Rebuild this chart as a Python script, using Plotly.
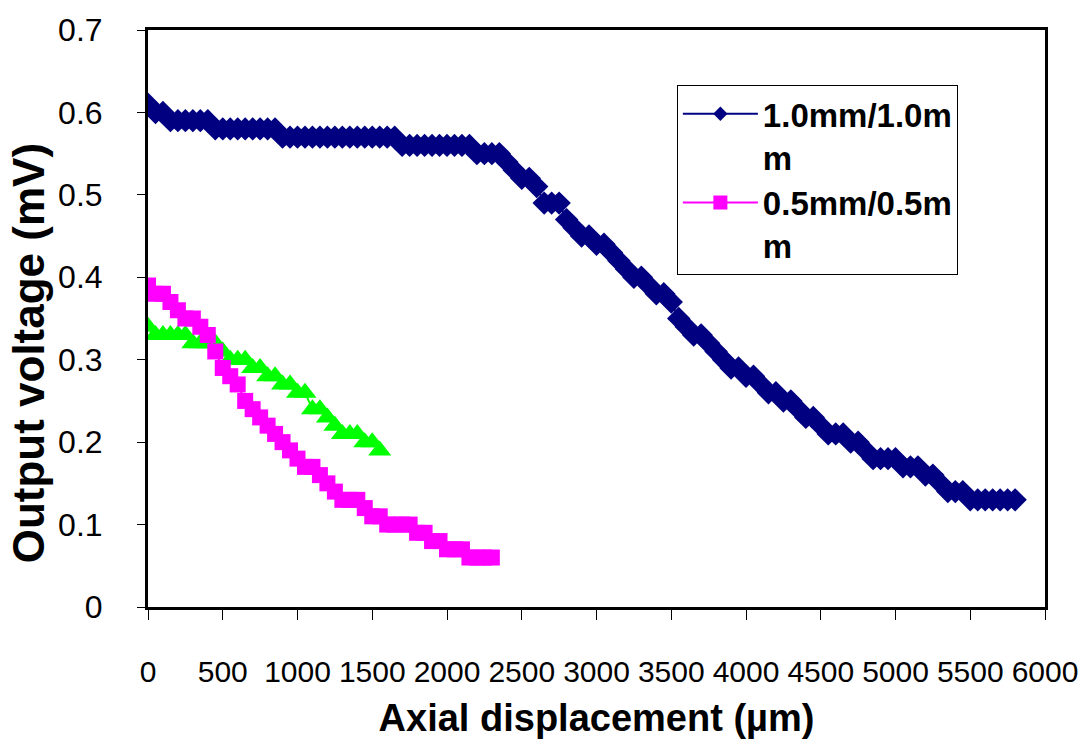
import plotly.graph_objects as go

# ---------------- data ----------------
step_um = 50

blue_name = "1.0mm/1.0m<br>m"
blue_y = [
    0.61, 0.60, 0.60,
    0.59, 0.59, 0.59, 0.59, 0.59, 0.59,
    0.58, 0.58, 0.58, 0.58, 0.58, 0.58, 0.58, 0.58, 0.58,
    0.57, 0.57, 0.57, 0.57, 0.57, 0.57, 0.57, 0.57,
    0.57, 0.57, 0.57, 0.57, 0.57, 0.57, 0.57, 0.57,
    0.56, 0.56, 0.56, 0.56, 0.56, 0.56, 0.56, 0.56, 0.56, 0.56,
    0.55, 0.55, 0.55, 0.55,
    0.54, 0.53, 0.52, 0.52, 0.51, 0.49, 0.49, 0.49, 0.47, 0.46,
    0.45, 0.45, 0.44, 0.44, 0.43, 0.42, 0.41, 0.40, 0.40, 0.39,
    0.38, 0.38, 0.37, 0.35, 0.34, 0.33, 0.33, 0.32, 0.31, 0.30,
    0.29, 0.29, 0.28, 0.28, 0.27, 0.26, 0.26, 0.25, 0.25, 0.24,
    0.23, 0.23, 0.22, 0.21, 0.21, 0.21, 0.20, 0.20, 0.19, 0.18,
    0.18, 0.18, 0.18, 0.17, 0.17, 0.17, 0.16, 0.16, 0.15, 0.14,
    0.14, 0.14, 0.13, 0.13, 0.13, 0.13, 0.13, 0.13, 0.13,
]

magenta_name = "0.5mm/0.5m<br>m"
magenta_y = [
    0.39, 0.38, 0.38, 0.37, 0.36, 0.35, 0.35, 0.34, 0.33, 0.31,
    0.29, 0.28, 0.27, 0.25, 0.24, 0.23, 0.22, 0.21, 0.20, 0.19,
    0.18, 0.17, 0.17, 0.16, 0.15, 0.14, 0.13, 0.13, 0.13, 0.12,
    0.11, 0.11, 0.10, 0.10, 0.10, 0.10, 0.09, 0.09, 0.08, 0.08,
    0.07, 0.07, 0.07, 0.06, 0.06, 0.06, 0.06,
]

green_y = [
    0.34, 0.33, 0.33, 0.33, 0.33, 0.33, 0.32, 0.32, 0.32, 0.32,
    0.31, 0.30, 0.30, 0.30, 0.29, 0.29, 0.28, 0.28, 0.27, 0.27,
    0.26, 0.26, 0.24, 0.24, 0.23, 0.22, 0.21, 0.21, 0.21, 0.20,
    0.20, 0.19,
]

x_tick_vals = [0, 500, 1000, 1500, 2000, 2500, 3000, 3500, 4000, 4500, 5000, 5500, 6000]
y_tick_vals = [0, 0.1, 0.2, 0.3, 0.4, 0.5, 0.6, 0.7]
y_tick_text = ["0", "0.1", "0.2", "0.3", "0.4", "0.5", "0.6", "0.7"]

x_title = "Axial displacement (µm)"
y_title = "Output voltage (mV)"

BLUE = "#000080"
MAGENTA = "#FF00FF"
GREEN = "#00FF00"


def xs(values):
    return [i * step_um for i in range(len(values))]


FONT = "Liberation Sans, Arial, sans-serif"

fig = go.Figure()
fig.add_trace(go.Scatter(
    x=xs(green_y), y=green_y, mode="lines+markers", showlegend=False,
    line=dict(color=GREEN, width=2),
    marker=dict(symbol="triangle-up", size=20, color=GREEN),
))
fig.add_trace(go.Scatter(
    x=xs(magenta_y), y=magenta_y, mode="lines+markers", showlegend=False,
    line=dict(color=MAGENTA, width=2),
    marker=dict(symbol="square", size=16, color=MAGENTA),
))
fig.add_trace(go.Scatter(
    x=xs(blue_y), y=blue_y, mode="lines+markers", showlegend=False,
    line=dict(color=BLUE, width=2),
    marker=dict(symbol="diamond", size=18, color=BLUE),
))
# legend entries (same series, legend-sized symbols)
fig.add_trace(go.Scatter(
    x=[None], y=[None], mode="lines+markers", name=magenta_name,
    line=dict(color=MAGENTA, width=2),
    marker=dict(symbol="square", size=14, color=MAGENTA),
))
fig.add_trace(go.Scatter(
    x=[None], y=[None], mode="lines+markers", name=blue_name,
    line=dict(color=BLUE, width=2),
    marker=dict(symbol="diamond", size=11, color=BLUE),
))

fig.update_layout(
    width=1090, height=745,
    margin=dict(l=148, r=43, t=28, b=133),
    paper_bgcolor="white", plot_bgcolor="white",
    font=dict(family=FONT, color="black"),
    legend=dict(
        x=0.5896, y=0.905, xanchor="left", yanchor="top",
        bgcolor="white", bordercolor="black", borderwidth=1,
        font=dict(size=33, family=FONT, color="black", weight="bold"),
        itemwidth=75, valign="top", traceorder="reversed",
        tracegroupgap=0,
    ),
    xaxis=dict(
        range=[0, 6000], tickvals=x_tick_vals,
        showgrid=False, zeroline=False,
        showline=True, linecolor="black", linewidth=3, mirror=True,
        ticks="outside", ticklen=10, tickwidth=1, tickcolor="black",
        tickfont=dict(size=30, family=FONT, color="black"),
        ticklabelstandoff=26,
        title=dict(text=x_title, standoff=18,
                   font=dict(size=38, family=FONT, color="black", weight="bold")),
    ),
    yaxis=dict(
        range=[0, 0.7], tickvals=y_tick_vals, ticktext=y_tick_text,
        showgrid=False, zeroline=False,
        showline=True, linecolor="black", linewidth=3, mirror=True,
        ticks="outside", ticklen=8, tickwidth=1, tickcolor="black",
        tickfont=dict(size=32, family=FONT, color="black"),
        ticklabelstandoff=28,
    ),
    annotations=[dict(
        text=y_title, textangle=-90, showarrow=False,
        xref="paper", yref="paper",
        x=(28 - 148) / 899, y=(612 - 355) / 584,
        xanchor="center", yanchor="middle",
        font=dict(size=44, family=FONT, color="black", weight="bold"),
    )],
)

fig.write_html("out.html")
